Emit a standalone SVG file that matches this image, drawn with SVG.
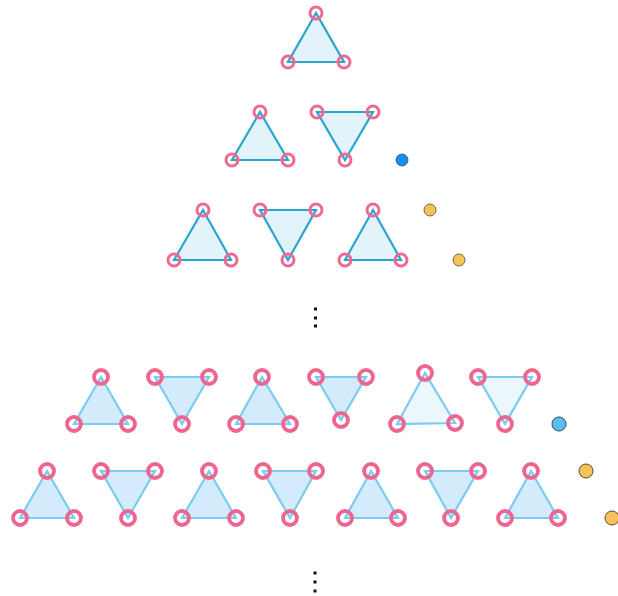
<svg xmlns="http://www.w3.org/2000/svg" width="618" height="596" viewBox="0 0 618 596">
<style>
.t1{fill:#e3f3fa;stroke:#2aa4d0;stroke-width:2.2;stroke-linejoin:miter}
.t2{fill:#d3ebfa;stroke:#7ccbf1;stroke-width:2.2;stroke-linejoin:miter}
.t3{fill:#ebf6fd;stroke:#7ccbf1;stroke-width:2.2;stroke-linejoin:miter}
.v1{fill:none;stroke:#ee6a92;stroke-width:3}
.v2{fill:none;stroke:#ee6690;stroke-width:3.8}
.dot{fill:#111}
</style>
<rect width="618" height="596" fill="#fff"/>
<g id="row1">
<g id="t-1-1"><polygon class="t1" points="316,13 288,62 344,62"/><circle class="v1" cx="316" cy="13" r="6"/><circle class="v1" cx="288" cy="62" r="6"/><circle class="v1" cx="344" cy="62" r="6"/></g>
</g>
<g id="row2">
<g id="t-2-1"><polygon class="t1" points="260,112 232,160 288,160"/><circle class="v1" cx="260" cy="112" r="6"/><circle class="v1" cx="232" cy="160" r="6"/><circle class="v1" cx="288" cy="160" r="6"/></g>
<g id="t-2-2"><polygon class="t1" points="317,112 373,112 345,160"/><circle class="v1" cx="317" cy="112" r="6"/><circle class="v1" cx="373" cy="112" r="6"/><circle class="v1" cx="345" cy="160" r="6"/></g>
<g id="d-2"><circle cx="402" cy="160" r="6" fill="#1690ee" stroke="#1a4f80" stroke-width="0.8"/></g>
</g>
<g id="row3">
<g id="t-3-1"><polygon class="t1" points="203,210 174,260 231,260"/><circle class="v1" cx="203" cy="210" r="6"/><circle class="v1" cx="174" cy="260" r="6"/><circle class="v1" cx="231" cy="260" r="6"/></g>
<g id="t-3-2"><polygon class="t1" points="260,210 316,210 288,260"/><circle class="v1" cx="260" cy="210" r="6"/><circle class="v1" cx="316" cy="210" r="6"/><circle class="v1" cx="288" cy="260" r="6"/></g>
<g id="t-3-3"><polygon class="t1" points="373,210 345,260 401,260"/><circle class="v1" cx="373" cy="210" r="6"/><circle class="v1" cx="345" cy="260" r="6"/><circle class="v1" cx="401" cy="260" r="6"/></g>
<g id="d-3"><circle cx="430" cy="210" r="6" fill="#f7c15a" stroke="#5a4a2a" stroke-width="0.8"/><circle cx="459" cy="260" r="6" fill="#f7c15a" stroke="#5a4a2a" stroke-width="0.8"/></g>
</g>
<g id="ellipsis1"><rect class="dot" x="314" y="307.5" width="3" height="3"/><rect class="dot" x="314" y="316.5" width="3" height="3"/><rect class="dot" x="314" y="324.5" width="3" height="3"/></g>
<g id="row4">
<g id="t-4-1"><polygon class="t2" points="101,377 74,424 128,424"/><circle class="v2" cx="101" cy="377" r="7"/><circle class="v2" cx="74" cy="424" r="7"/><circle class="v2" cx="128" cy="424" r="7"/></g>
<g id="t-4-2"><polygon class="t2" points="155,377 209,377 182,424"/><circle class="v2" cx="155" cy="377" r="7"/><circle class="v2" cx="209" cy="377" r="7"/><circle class="v2" cx="182" cy="424" r="7"/></g>
<g id="t-4-3"><polygon class="t2" points="262,377 236,424 290,424"/><circle class="v2" cx="262" cy="377" r="7"/><circle class="v2" cx="236" cy="424" r="7"/><circle class="v2" cx="290" cy="424" r="7"/></g>
<g id="t-4-4"><polygon class="t2" points="316,377 366,377 341,420"/><circle class="v2" cx="316" cy="377" r="7"/><circle class="v2" cx="366" cy="377" r="7"/><circle class="v2" cx="341" cy="420" r="7"/></g>
<g id="t-4-5"><polygon class="t3" points="425,373 397,424 455,423"/><circle class="v2" cx="425" cy="373" r="7"/><circle class="v2" cx="397" cy="424" r="7"/><circle class="v2" cx="455" cy="423" r="7"/></g>
<g id="t-4-6"><polygon class="t3" points="478,377 532,377 505,424"/><circle class="v2" cx="478" cy="377" r="7"/><circle class="v2" cx="532" cy="377" r="7"/><circle class="v2" cx="505" cy="424" r="7"/></g>
<g id="d-4"><circle cx="559" cy="424" r="7" fill="#5bbcee" stroke="#2a4a60" stroke-width="1"/></g>
</g>
<g id="row5">
<g id="t-5-1"><polygon class="t2" points="47,471 20,518 74,518"/><circle class="v2" cx="47" cy="471" r="7"/><circle class="v2" cx="20" cy="518" r="7"/><circle class="v2" cx="74" cy="518" r="7"/></g>
<g id="t-5-2"><polygon class="t2" points="101,471 155,471 128,518"/><circle class="v2" cx="101" cy="471" r="7"/><circle class="v2" cx="155" cy="471" r="7"/><circle class="v2" cx="128" cy="518" r="7"/></g>
<g id="t-5-3"><polygon class="t2" points="209,471 182,518 236,518"/><circle class="v2" cx="209" cy="471" r="7"/><circle class="v2" cx="182" cy="518" r="7"/><circle class="v2" cx="236" cy="518" r="7"/></g>
<g id="t-5-4"><polygon class="t2" points="263,471 316,471 290,518"/><circle class="v2" cx="263" cy="471" r="7"/><circle class="v2" cx="316" cy="471" r="7"/><circle class="v2" cx="290" cy="518" r="7"/></g>
<g id="t-5-5"><polygon class="t2" points="371,471 345,518 398,518"/><circle class="v2" cx="371" cy="471" r="7"/><circle class="v2" cx="345" cy="518" r="7"/><circle class="v2" cx="398" cy="518" r="7"/></g>
<g id="t-5-6"><polygon class="t2" points="425,471 478,471 451,518"/><circle class="v2" cx="425" cy="471" r="7"/><circle class="v2" cx="478" cy="471" r="7"/><circle class="v2" cx="451" cy="518" r="7"/></g>
<g id="t-5-7"><polygon class="t2" points="531,471 505,518 558,518"/><circle class="v2" cx="531" cy="471" r="7"/><circle class="v2" cx="505" cy="518" r="7"/><circle class="v2" cx="558" cy="518" r="7"/></g>
<g id="d-5"><circle cx="586" cy="471" r="7" fill="#f7c15a" stroke="#5a4a2a" stroke-width="1"/><circle cx="612" cy="518" r="7" fill="#f7c15a" stroke="#5a4a2a" stroke-width="1"/></g>
</g>
<g id="ellipsis2"><rect class="dot" x="313.5" y="571.5" width="3" height="3"/><rect class="dot" x="313.5" y="580.5" width="3" height="3"/><rect class="dot" x="313.5" y="589.5" width="3" height="3"/></g>
<g id="connectors"/>
</svg>
